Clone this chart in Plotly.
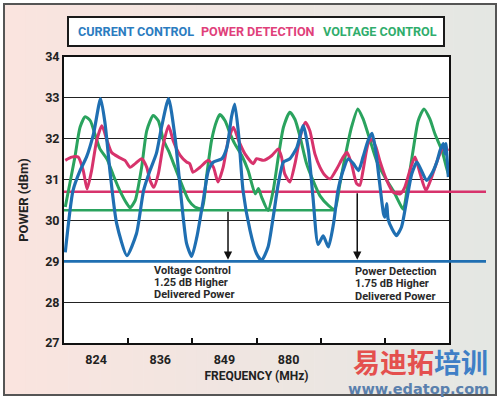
import plotly.graph_objects as go

# ---------------- data ----------------
band_labels = ["824", "836", "849", "880"]
band_label_pos = [0.5, 1.5, 2.5, 3.5]
band_edges = [1, 2, 3, 4, 5]
y_ticks = [27, 28, 29, 30, 31, 32, 33, 34]

current_x = [0.02, 0.14, 0.25, 0.35, 0.46, 0.57, 0.64, 0.72, 0.82, 0.98, 1.13, 1.24, 1.34, 1.44,
             1.52, 1.63, 1.73, 1.83, 1.91, 1.99, 2.07, 2.17, 2.25, 2.33, 2.46, 2.54, 2.61, 2.66,
             2.72, 2.79, 2.90, 3.00, 3.08, 3.18, 3.26, 3.34, 3.42, 3.52, 3.63, 3.73, 3.81, 3.88,
             3.96, 4.04, 4.12, 4.20, 4.27, 4.35, 4.43, 4.51, 4.59, 4.66, 4.74, 4.80, 4.85, 4.92,
             4.98, 5.00, 5.03, 5.05, 5.11, 5.18, 5.26, 5.34, 5.42, 5.50, 5.57, 5.65, 5.73, 5.81,
             5.86, 5.91, 5.94, 5.95, 5.99]
current_y = [29.22, 30.73, 31.22, 31.55, 32.12, 32.98, 32.37, 31.15, 29.93, 29.14, 29.68, 30.73, 31.22, 31.64,
             32.28, 32.98, 32.04, 30.49, 29.44, 29.12, 29.59, 30.49, 31.22, 31.43, 31.51, 31.79, 32.53, 32.85,
             32.12, 30.73, 29.75, 29.19, 29.02, 29.35, 30.08, 30.90, 31.43, 31.51, 31.79, 32.32, 31.71, 30.57,
             29.41, 29.62, 29.35, 29.92, 30.73, 31.22, 31.51, 31.39, 31.22, 31.55, 31.96, 32.13, 31.79, 30.90,
             30.16, 30.08, 30.41, 30.04, 29.80, 29.63, 29.84, 30.49, 31.14, 31.43, 31.22, 30.98, 31.14, 31.43,
             31.71, 31.88, 31.63, 31.88, 31.06]

power_x = [0.02, 0.12, 0.22, 0.30, 0.36, 0.43, 0.51, 0.59, 0.67, 0.74, 0.85, 0.95, 1.03, 1.11, 1.21,
           1.29, 1.34, 1.40, 1.47, 1.55, 1.63, 1.70, 1.81, 1.91, 1.96, 2.01, 2.12, 2.25, 2.33, 2.40,
           2.48, 2.56, 2.64, 2.72, 2.82, 2.95, 3.00, 3.11, 3.24, 3.34, 3.39, 3.44, 3.52, 3.60, 3.68,
           3.76, 3.83, 3.91, 3.99, 4.07, 4.15, 4.25, 4.35, 4.41, 4.48, 4.56, 4.61, 4.66, 4.74, 4.80,
           4.86, 4.92, 5.03, 5.13, 5.24, 5.31, 5.39, 5.47, 5.55, 5.64, 5.73, 5.81, 5.89, 5.94, 5.98]
power_y = [31.47, 31.55, 31.55, 31.22, 30.77, 31.22, 31.96, 32.32, 31.96, 31.67, 31.55, 31.47, 31.30, 31.39, 31.51,
           31.30, 30.98, 30.81, 31.14, 31.88, 32.32, 31.96, 31.59, 31.43, 31.39, 31.18, 31.30, 31.47, 31.30, 30.94,
           31.30, 31.96, 32.28, 31.96, 31.63, 31.39, 31.51, 31.47, 31.59, 31.75, 31.55, 31.14, 30.94, 31.39, 32.04,
           32.40, 32.20, 31.63, 31.30, 31.10, 31.02, 31.26, 31.55, 31.67, 31.39, 30.90, 30.86, 31.22, 31.88, 32.00,
           31.80, 31.47, 30.98, 30.69, 30.65, 30.81, 31.22, 31.55, 31.14, 30.73, 31.06, 31.43, 31.75, 31.84, 31.70]

voltage_x = [0.02, 0.09, 0.17, 0.25, 0.33, 0.41, 0.48, 0.56, 0.67, 0.77, 0.87, 0.98, 1.03, 1.11, 1.21,
             1.29, 1.39, 1.47, 1.55, 1.63, 1.73, 1.83, 1.94, 2.04, 2.15, 2.22, 2.30, 2.38, 2.43, 2.51,
             2.59, 2.66, 2.77, 2.87, 2.98, 3.03, 3.08, 3.18, 3.26, 3.34, 3.42, 3.52, 3.60, 3.68, 3.78,
             3.88, 3.99, 4.12, 4.22, 4.30, 4.38, 4.48, 4.58, 4.66, 4.77, 4.87, 5.00, 5.13, 5.26, 5.29,
             5.36, 5.44, 5.52, 5.61, 5.70, 5.78, 5.89, 5.96, 5.99]
voltage_y = [30.33, 30.90, 31.55, 32.28, 32.54, 32.44, 32.12, 31.75, 31.50, 31.10, 30.73, 30.41, 30.31, 30.49, 31.30,
             32.20, 32.57, 32.44, 31.96, 31.70, 31.30, 30.90, 30.50, 30.33, 30.29, 31.06, 31.96, 32.44, 32.59, 32.44,
             32.12, 31.88, 31.59, 31.22, 30.65, 30.78, 30.57, 30.24, 30.73, 31.55, 32.28, 32.65, 32.47, 32.04, 31.39,
             30.98, 30.60, 30.37, 30.27, 30.90, 31.55, 32.28, 32.73, 32.49, 31.96, 31.47, 31.06, 30.73, 30.33, 30.27,
             30.90, 31.71, 32.44, 32.73, 32.49, 32.12, 31.71, 31.30, 31.14]

ref_current = 29.0
ref_power = 30.7
ref_voltage = 30.25
ref_voltage_end = 4.22

arrow_voltage_x = 2.556
arrow_power_x = 4.57

note_voltage = ["Voltage Control", "1.25 dB Higher", "Delivered Power"]
note_power = ["Power Detection", "1.75 dB Higher", "Delivered Power"]

legend_names = ["CURRENT CONTROL", "POWER DETECTION", "VOLTAGE CONTROL"]

# ---------------- style ----------------
BLUE = "#1f6fb2"
PINK = "#d7336c"
GREEN = "#2aa35e"
LCOLORS = ["#2b7cc0", "#e0407a", "#30ad6c"]
LCENTERS = [135.5, 257.5, 379.5]
FONT = "Roboto, Liberation Sans, Arial, sans-serif"
W, H = 500, 399
L, R, T, B = 64, 449, 57, 343


def px(x):
    return (x - L) / (R - L)


def py(y):
    return (B - y) / (B - T)


fig = go.Figure()

# horizontal reference lines (inside plot)
fig.add_trace(go.Scatter(x=[0, 6], y=[ref_power, ref_power], mode="lines",
                         line=dict(color=PINK, width=2.5), hoverinfo="skip", showlegend=False))
fig.add_trace(go.Scatter(x=[0, ref_voltage_end], y=[ref_voltage, ref_voltage], mode="lines",
                         line=dict(color=GREEN, width=2.5), hoverinfo="skip", showlegend=False))
fig.add_trace(go.Scatter(x=[0, 6], y=[ref_current, ref_current], mode="lines",
                         line=dict(color=BLUE, width=2.8), hoverinfo="skip", showlegend=False))

# curves
fig.add_trace(go.Scatter(x=voltage_x, y=voltage_y, mode="lines", name=legend_names[2],
                         line=dict(color=GREEN, width=3, shape="spline", smoothing=0.6), showlegend=False))
fig.add_trace(go.Scatter(x=power_x, y=power_y, mode="lines", name=legend_names[1],
                         line=dict(color=PINK, width=3, shape="spline", smoothing=0.6), showlegend=False))
fig.add_trace(go.Scatter(x=current_x, y=current_y, mode="lines", name=legend_names[0],
                         line=dict(color=BLUE, width=3.2, shape="spline", smoothing=0.6), showlegend=False))

shapes = []
# gradient background inside the outer frame
N = 46
fx0, fx1 = 4, 496
left_c = (250, 228, 223)
right_c = (228, 231, 227)
for i in range(N):
    t = i / (N - 1)
    c = tuple(int(round(left_c[k] + (right_c[k] - left_c[k]) * t)) for k in range(3))
    a = fx0 + (fx1 - fx0) * i / N
    b = fx0 + (fx1 - fx0) * (i + 1) / N + 0.6
    shapes.append(dict(type="rect", xref="paper", yref="paper", x0=px(a), x1=px(b),
                       y0=py(395), y1=py(4), line=dict(width=0),
                       fillcolor="rgb(%d,%d,%d)" % c, layer="below"))
# white plot area
shapes.append(dict(type="rect", xref="paper", yref="paper", x0=0, x1=1, y0=0, y1=1,
                   line=dict(width=0), fillcolor="white", layer="below"))
# outer frame
shapes.append(dict(type="rect", xref="paper", yref="paper", x0=px(4), x1=px(496),
                   y0=py(395), y1=py(4), line=dict(color="#555555", width=2), layer="below"))
# legend box
shapes.append(dict(type="rect", xref="paper", yref="paper", x0=px(68), x1=px(444),
                   y0=py(46), y1=py(17), line=dict(color="#1a1a1a", width=2),
                   fillcolor="white", layer="below"))
# extension of the reference lines to the right of the plot
shapes.append(dict(type="line", xref="paper", yref="y", x0=1, x1=px(486),
                   y0=ref_power, y1=ref_power, line=dict(color=PINK, width=2.5), layer="above"))
shapes.append(dict(type="line", xref="paper", yref="y", x0=1, x1=px(486),
                   y0=ref_current, y1=ref_current, line=dict(color=BLUE, width=2.8), layer="above"))

annotations = []
# legend text
for name, col, cx in zip(legend_names, LCOLORS, LCENTERS):
    annotations.append(dict(xref="paper", yref="paper", x=px(cx), y=py(31.5), text=name,
                            showarrow=False, xanchor="center", yanchor="middle",
                            font=dict(family=FONT, size=12.6, color=col, weight="bold")))
# arrows
annotations.append(dict(x=arrow_voltage_x, y=ref_current + 0.04, ax=arrow_voltage_x, ay=ref_voltage,
                        xref="x", yref="y", axref="x", ayref="y", text="", showarrow=True,
                        arrowhead=2, arrowsize=1.1, arrowwidth=1.5, arrowcolor="#111111", standoff=0))
annotations.append(dict(x=arrow_power_x, y=ref_current + 0.04, ax=arrow_power_x, ay=ref_power,
                        xref="x", yref="y", axref="x", ayref="y", text="", showarrow=True,
                        arrowhead=2, arrowsize=1.1, arrowwidth=1.5, arrowcolor="#111111", standoff=0))
# notes
for i, line in enumerate(note_voltage):
    annotations.append(dict(x=1.37, y=28.78 - i * 0.295, xref="x", yref="y", text=line, showarrow=False,
                            xanchor="left", yanchor="middle",
                            font=dict(family=FONT, size=11, color="#2a2a2a", weight="bold")))
for i, line in enumerate(note_power):
    annotations.append(dict(x=4.50, y=28.74 - i * 0.295, xref="x", yref="y", text=line, showarrow=False,
                            xanchor="left", yanchor="middle",
                            font=dict(family=FONT, size=11, color="#2a2a2a", weight="bold")))
# watermark
annotations.append(dict(xref="paper", yref="paper", x=px(420), y=py(361), showarrow=False,
                        xanchor="center", yanchor="middle",
                        text="<span style='color:#e4504e'>易迪拓</span><span style='color:#3f7fc6'>培训</span>",
                        font=dict(family="Noto Sans CJK SC", size=27, weight="bold")))
annotations.append(dict(xref="paper", yref="paper", x=px(418), y=py(389), showarrow=False,
                        xanchor="center", yanchor="middle", text="www.edatop.com",
                        font=dict(family="DejaVu Sans", size=14.5, color="#5a80ad", weight="bold")))

fig.update_layout(
    width=W, height=H,
    margin=dict(l=L, r=W - R, t=T, b=H - B, pad=0),
    paper_bgcolor="white", plot_bgcolor="white",
    shapes=shapes, annotations=annotations,
    showlegend=False,
    xaxis=dict(range=[0, 6], tickmode="array", tickvals=band_label_pos, ticktext=band_labels,
               ticks="", showgrid=False, zeroline=False, showline=True, mirror=True,
               linecolor="#111111", linewidth=2, ticklabelstandoff=4,
               tickfont=dict(family=FONT, size=12.5, color="#222222", weight="bold"),
               minor=dict(tickmode="array", tickvals=band_edges, ticks="inside", ticklen=5,
                          tickwidth=1.5, tickcolor="#111111", showgrid=False),
               title=dict(text="FREQUENCY (MHz)", standoff=6,
                          font=dict(family=FONT, size=12, color="#222222", weight="bold"))),
    yaxis=dict(range=[27, 34], tickmode="array", tickvals=y_ticks, ticks="", showgrid=True,
               gridcolor="#222222", gridwidth=1, zeroline=False, showline=True, mirror=True,
               linecolor="#111111", linewidth=2,
               tickfont=dict(family=FONT, size=12.5, color="#222222", weight="bold"),
               title=dict(text="POWER (dBm)", standoff=14,
                          font=dict(family=FONT, size=13, color="#222222", weight="bold"))),
)

fig.write_html("out.html", config={"displayModeBar": False},
               post_script="document.body.style.margin='0px';document.body.style.padding='0px';")
